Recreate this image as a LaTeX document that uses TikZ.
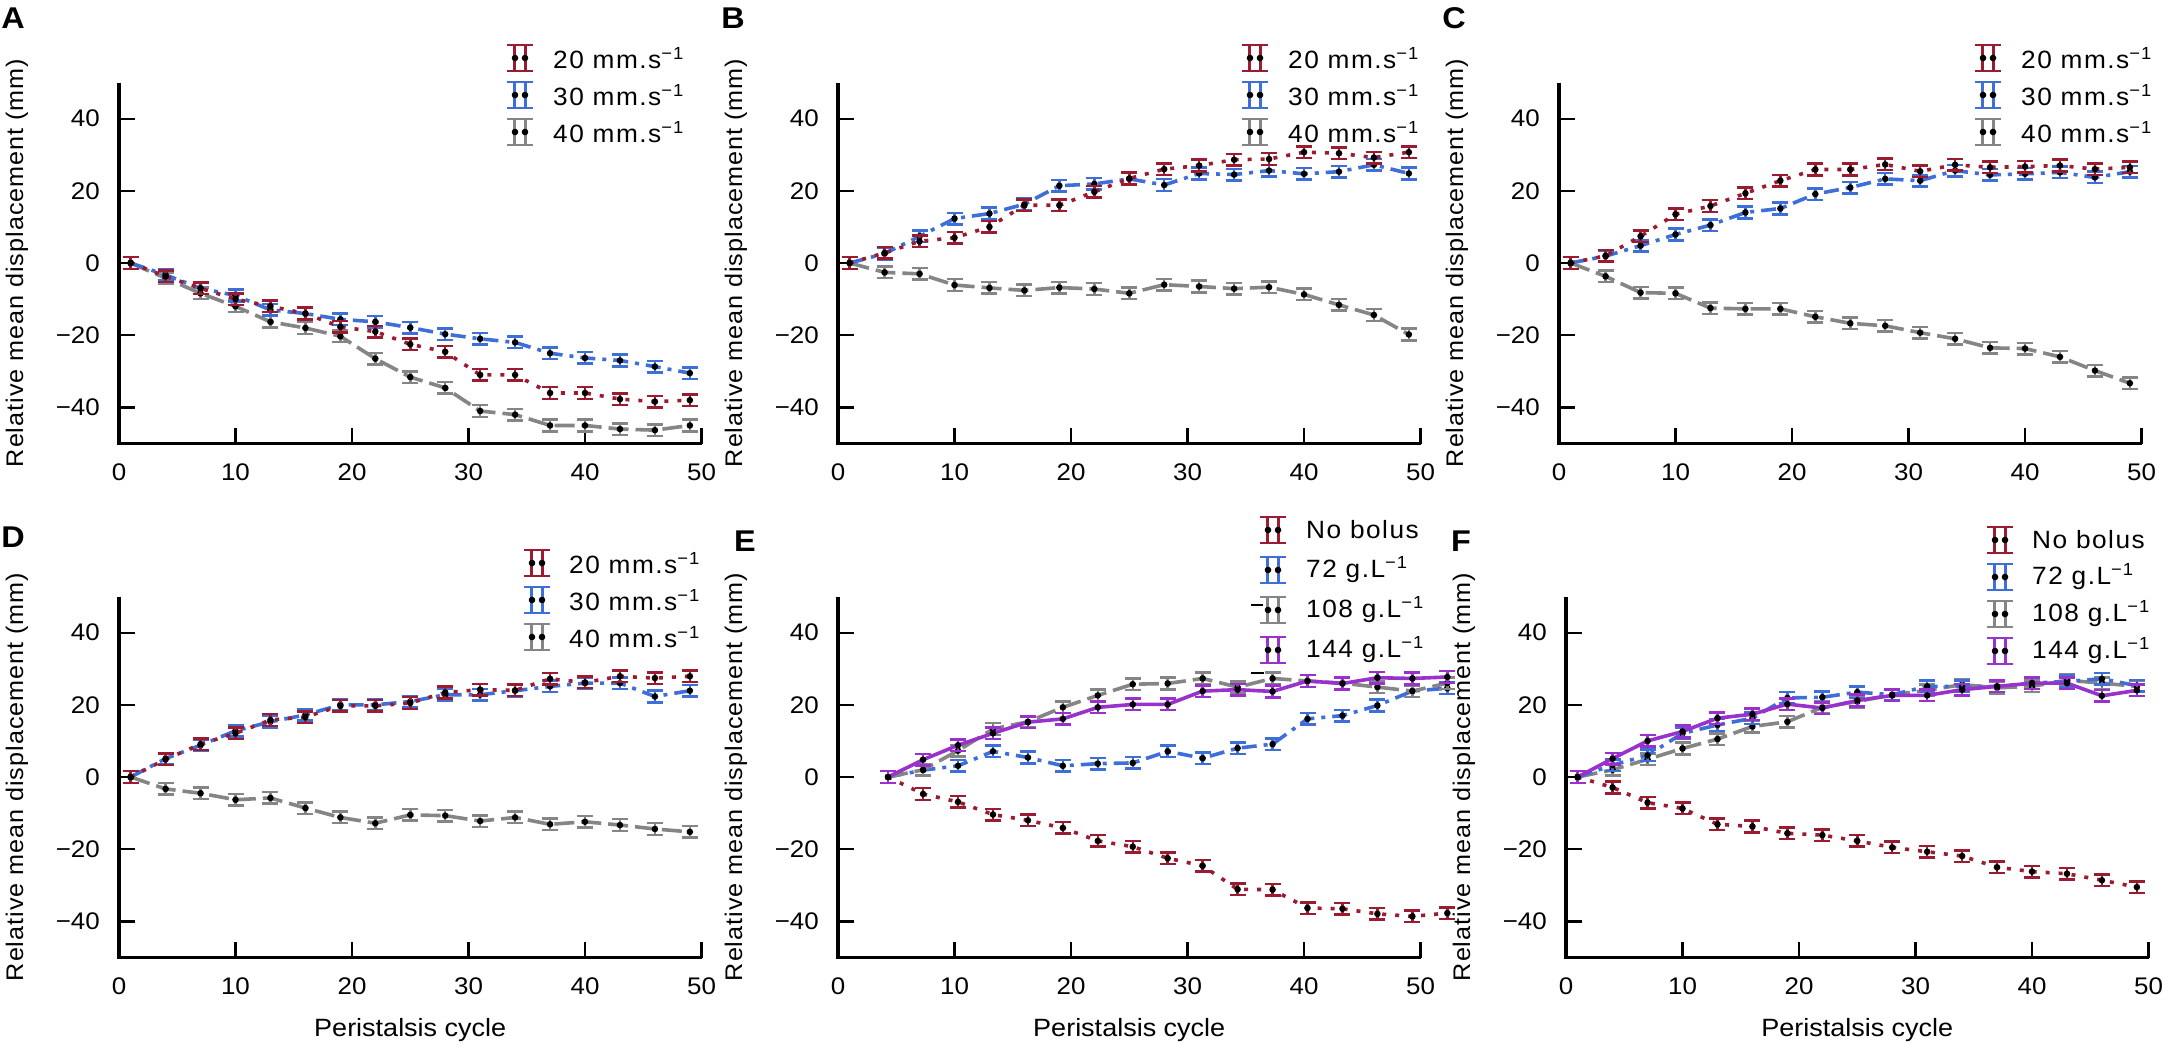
\documentclass[tikz,border=0pt]{standalone}
\usepackage{fontspec}
\setmainfont{Liberation Sans}[FakeStretch=1.08]
\newfontfamily\legf{Liberation Sans}[FakeStretch=1.05,LetterSpace=6]
\newfontfamily\labf{Liberation Sans}[FakeStretch=1.05,LetterSpace=4]
\definecolor{cred}{HTML}{9B1B30}
\definecolor{cblue}{HTML}{3E6FD8}
\definecolor{cgray}{HTML}{858585}
\definecolor{cpur}{HTML}{9932CC}
\tikzset{
 ax/.style={line width=3.3pt,black},
 tk/.style={line width=2.2pt,black},
 tkl/.style={font=\fontsize{24}{26}\selectfont,inner sep=0pt},
 line/.style={line width=3.6pt},
 bar/.style={solid,line width=2.5pt,line cap=butt},
 sred/.style={cred,dash pattern=on 4pt off 9pt},
 sblue/.style={cblue,dash pattern=on 15pt off 7pt on 4pt off 7pt},
 sgray/.style={cgray,dash pattern=on 20pt off 7pt},
 spur/.style={cpur,solid},
 plet/.style={font=\fontsize{30}{32}\selectfont\bfseries,inner sep=0pt},
 legt/.style={font=\legf\fontsize{25}{27}\selectfont,anchor=west,inner sep=0pt},
}
\newcommand\ser[3]{%
 \foreach \v [count=\i] in {#3}{\pgfmathsetmacro\cc{#2+3*(\i-1)}\coordinate (q\i) at (\cc,\v);}
 \draw[#1,line] (q1) \foreach \i in {2,...,17}{ -- (q\i)};
 \foreach \i in {1,...,17}{\draw[#1,bar] ([yshift=-5.8pt]q\i) -- ([yshift=5.8pt]q\i)
   ([xshift=-8pt,yshift=-5.8pt]q\i) -- ([xshift=8pt,yshift=-5.8pt]q\i)
   ([xshift=-8pt,yshift=5.8pt]q\i) -- ([xshift=8pt,yshift=5.8pt]q\i);}
 \foreach \i in {1,...,17}{\fill[black] (q\i) circle (3.3pt);}
}
\newcommand\axes[1]{%
 \draw[ax] (0,50) -- (0,-50) -- (50,-50);
 \foreach \t in {-40,-20,0,20,40}{\draw[tk] (0,\t) -- ++(16pt,0);
   \node[tkl,anchor=east] at ([xshift=-19pt]0,\t) {\ifnum\t<0 −\number-\t\else\t\fi};}
 \foreach \t in {10,20,30,40,50}{\draw[tk] (\t,-50) -- ++(0,16pt);}
 \foreach \t in {0,10,20,30,40,50}{\node[tkl] at ([yshift=-29pt]\t,-50) {\t};}
 \node[font=\labf\fontsize{24}{26}\selectfont,rotate=90,inner sep=0pt] at ([xshift=-102pt]0,0) {Relative mean displacement (mm)};
 \ifnum#1=1 \node[font=\fontsize{25}{27}\selectfont,inner sep=0pt] at ([yshift=-73pt]25,-50) {Peristalsis cycle};\fi
}
\newcommand\leg[5]{% x y color text textx
 \begin{scope}[shift={(#1pt,-#2pt)}]
  \draw[#3,bar] (-5.5pt,-13pt) -- (-5.5pt,13pt) (5.5pt,-13pt) -- (5.5pt,13pt)
    (-13pt,-13pt) -- (13pt,-13pt) (-13pt,13pt) -- (13pt,13pt);
  \fill[black] (-5pt,0) circle (3.3pt) (5pt,0) circle (3.3pt);
 \end{scope}
 \node[legt] at (#5pt,-#2pt) {#4};
}
\newcommand\ms[1]{#1 mm.s\textsuperscript{−1}}
\newcommand\gl[1]{#1 g.L\textsuperscript{−1}}
\begin{document}
\begin{tikzpicture}
\useasboundingbox (0,0) rectangle (2176pt,-1049pt);
\fill[white] (0,0) rectangle (2176pt,-1049pt);
% A
\begin{scope}[shift={(119pt,-263pt)},x=11.65pt,y=3.61pt]
\axes{0}
\ser{sgray}{1}{0,-4.2,-8.4,-12,-16.3,-18,-20.3,-26.5,-31.6,-34.6,-41,-42,-45,-45,-46,-46.3,-45}
\ser{sblue}{1}{0,-3.3,-7,-9,-13,-14,-15.6,-16.3,-17.9,-19.7,-21,-22,-25,-26.3,-27,-28.7,-30.5}
\ser{sred}{1}{0,-3.7,-7,-10,-12,-14,-17.7,-19,-22.5,-24.6,-31,-31,-36,-36,-37.7,-38.4,-38}
\end{scope}
\node[plet] (la) at (13pt,-18pt) {A};
\leg{520}{58}{cred}{\ms{20}}{553}
\leg{520}{95}{cblue}{\ms{30}}{553}
\leg{520}{132}{cgray}{\ms{40}}{553}
% B
\begin{scope}[shift={(838pt,-263pt)},x=11.65pt,y=3.61pt]
\axes{0}
\ser{sgray}{1}{0,-2.6,-3,-6.1,-6.9,-7.6,-6.8,-7.2,-8.4,-6,-6.5,-7.1,-6.7,-8.7,-11.6,-14.4,-19.8}
\ser{sblue}{1}{0,2.6,7.4,12.3,13.7,16.3,21.4,21.9,23.3,21.6,24.8,24.5,25.6,24.7,25.3,27.2,24.8}
\ser{sred}{1}{0,2.8,6,7,10,16,16,19.7,23.4,26,27,28.6,28.8,30.7,30.4,29.2,30.7}
\end{scope}
\node[plet] (lb) at (733pt,-18pt) {B};
\leg{1255}{58}{cred}{\ms{20}}{1288}
\leg{1255}{95}{cblue}{\ms{30}}{1288}
\leg{1255}{132}{cgray}{\ms{40}}{1288}
% C
\begin{scope}[shift={(1559pt,-263pt)},x=11.65pt,y=3.61pt]
\axes{0}
\ser{sgray}{1}{0,-3.7,-8.2,-8.4,-12.5,-12.7,-12.7,-14.9,-16.7,-17.4,-19.3,-21,-23.5,-23.7,-26,-29.8,-33.3}
\ser{sblue}{1}{0,1.9,4.8,7.9,10.5,14,15.1,19.1,20.9,23.3,22.8,25.6,24.4,24.7,25.1,23.7,25.3}
\ser{sred}{1}{0,2,7.4,13.5,15.8,19.3,22.8,25.9,25.9,27.3,25.4,27.2,26.5,26.7,27,26,26.5}
\end{scope}
\node[plet] (lc) at (1454pt,-18pt) {C};
\leg{1988}{58}{cred}{\ms{20}}{2021}
\leg{1988}{95}{cblue}{\ms{30}}{2021}
\leg{1988}{132}{cgray}{\ms{40}}{2021}
% D
\begin{scope}[shift={(119pt,-777pt)},x=11.65pt,y=3.61pt]
\axes{1}
\ser{sgray}{1}{0,-3.3,-4.5,-6.3,-5.8,-8.6,-11.2,-12.8,-10.5,-10.7,-12.2,-11.2,-13.1,-12.4,-13.3,-14.4,-15.2}
\ser{sblue}{1}{0,5.1,8.8,12.8,15.3,17.2,20,20,20.9,22.8,22.8,23.9,25.1,26,26,22.3,23.9}
\ser{sred}{1}{0,4.9,9.1,12.1,15.8,16.6,19.7,19.7,20.5,23.4,24.2,24,27.2,26.2,27.9,27.4,27.9}
\end{scope}
\node[plet] (ld) at (13pt,-537pt) {D};
\leg{537}{563}{cred}{\ms{20}}{569}
\leg{537}{600}{cblue}{\ms{30}}{569}
\leg{537}{637}{cgray}{\ms{40}}{569}
% E
\begin{scope}[shift={(838pt,-777pt)},x=11.65pt,y=3.61pt]
\axes{1}
\ser{sred}{4.3}{0,-4.7,-6.9,-10.4,-12,-14.1,-17.7,-19.3,-22.5,-24.6,-31.1,-31.2,-36.3,-36.5,-37.9,-38.6,-37.7}
\ser{sblue}{4.3}{0,1.9,3.1,7.1,5.4,3.1,3.7,3.9,7.1,5.2,8,9.1,16.1,17,19.8,23.8,24.6}
\ser{sgray}{4.3}{0,2,7.3,13.3,15.3,19.3,22.6,25.7,25.9,27.3,24.9,27.3,26.6,26,24.9,23.8,26}
\draw[black,line width=2pt] ([xshift=-22pt,yshift=5.8pt]q12) -- ([xshift=-9pt,yshift=5.8pt]q12);
\ser{spur}{4.3}{0,4.8,8.8,12.1,15.2,16.1,19.3,20.1,20.1,23.8,24.2,23.7,26.6,25.9,27.5,27.3,27.7}
\end{scope}
\node[plet] (le) at (745pt,-541pt) {E};
\leg{1273}{530}{cred}{No bolus}{1306}
\leg{1273}{570}{cblue}{\gl{72}}{1306}
\leg{1273}{610}{cgray}{\gl{108}}{1306}
\draw[black,line width=2pt] (1251pt,-605pt) -- (1263pt,-605pt);
\leg{1273}{650}{cpur}{\gl{144}}{1306}
% F
\begin{scope}[shift={(1566pt,-777pt)},x=11.65pt,y=3.61pt]
\axes{1}
\ser{sred}{1}{0,-2.9,-7.1,-8.7,-13.1,-13.7,-15.6,-16.1,-17.7,-19.5,-20.7,-21.9,-25,-26.2,-26.8,-28.6,-30.5}
\ser{sgray}{1}{0,2,4.9,7.9,10.5,14,15.3,19.3,20.9,22.8,24,25.6,24.7,25.1,26.8,26,25.1}
\ser{sblue}{1}{0,3.3,6,12.1,14.4,16.3,21.9,22.1,23.5,22.8,25.1,25.1,25.1,26,26.5,27.2,25.3}
\ser{spur}{1}{0,5.1,10,12.6,16.3,17.4,20.2,19.1,21.2,22.6,22.6,24.2,25.1,26,26,22.5,24}
\end{scope}
\node[plet] (lf) at (1461pt,-541pt) {F};
\leg{2000}{540}{cred}{No bolus}{2032}
\leg{2000}{577}{cblue}{\gl{72}}{2032}
\leg{2000}{614}{cgray}{\gl{108}}{2032}
\leg{2000}{651}{cpur}{\gl{144}}{2032}
\end{tikzpicture}
\end{document}
